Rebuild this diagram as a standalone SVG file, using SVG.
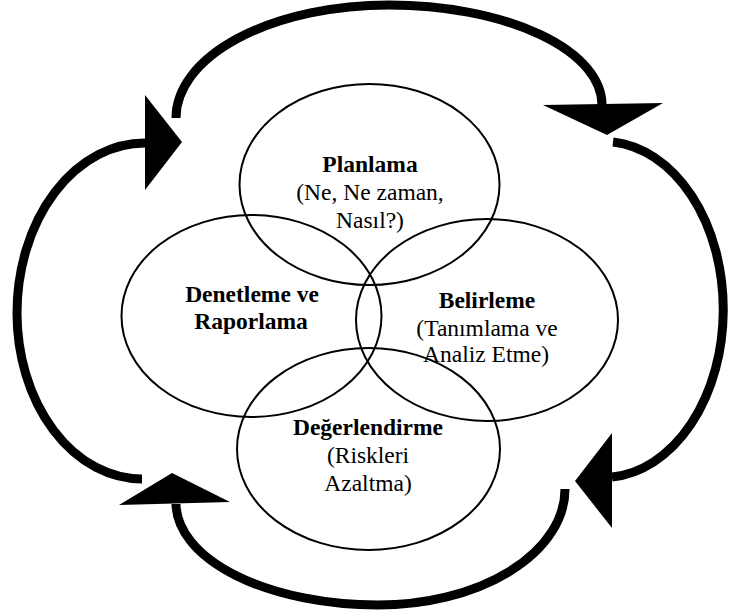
<svg xmlns="http://www.w3.org/2000/svg" width="738" height="615" viewBox="0 0 738 615">
<style>
.node ellipse{fill:none;stroke:#000;stroke-width:2}
.arc{fill:none;stroke:#000;stroke-width:9;stroke-linecap:butt}
.head{fill:#000;stroke:none}
text{font-family:"Liberation Serif","Times New Roman",serif;font-size:23.5px;fill:#000;text-anchor:middle}
.b{font-weight:bold}
</style>
<rect width="738" height="615" fill="#fff"/>
<g id="connectors">
<path class="arc" d="M176,118 A213,113 0 0 1 389,5 A213,100 0 0 1 602,106"/>
<polygon class="head" points="543,105 663,103 607,135"/>
<path class="arc" d="M613,142 A120,168 0 0 1 612,477"/>
<polygon class="head" points="612,433 575,481 612,528"/>
<path class="arc" d="M565,489 A187,116 0 0 1 378,605 A202,102 0 0 1 176,504"/>
<polygon class="head" points="119,505 230,502 172,473"/>
<path class="arc" d="M142,479 A125,166 0 0 1 17,313 A128,170 0 0 1 146,143"/>
<polygon class="head" points="145,95 182,142 145,190"/>
</g>
<g id="planlama" class="node">
<ellipse cx="369.5" cy="184.5" rx="130" ry="100.5"/>
<text x="370" y="172" class="b">Planlama</text>
<text x="370" y="200">(Ne, Ne zaman,</text>
<text x="370" y="228">Nasıl?)</text>
</g>
<g id="denetleme" class="node">
<ellipse cx="251.5" cy="316" rx="130" ry="101"/>
<text x="252" y="302" class="b">Denetleme ve</text>
<text x="251" y="329" class="b">Raporlama</text>
</g>
<g id="belirleme" class="node">
<ellipse cx="487" cy="320" rx="131" ry="101"/>
<text x="487" y="308" class="b">Belirleme</text>
<text x="487" y="336">(Tanımlama ve</text>
<text x="486" y="362">Analiz Etme)</text>
</g>
<g id="degerlendirme" class="node">
<ellipse cx="368.5" cy="449" rx="131.5" ry="101"/>
<text x="368" y="435" class="b">Değerlendirme</text>
<text x="368" y="463">(Riskleri</text>
<text x="368" y="491">Azaltma)</text>
</g>
</svg>
